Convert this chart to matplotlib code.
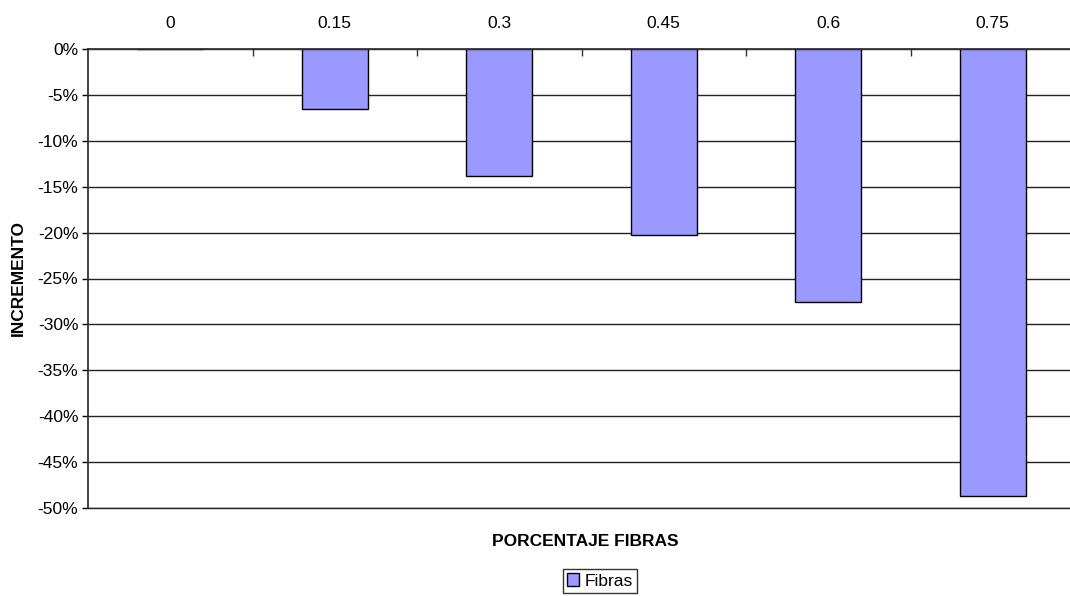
import numpy as np
import matplotlib.pyplot as plt

plt.rcParams['font.family'] = ['Liberation Sans', 'DejaVu Sans']
plt.rcParams['axes.unicode_minus'] = False

# Datos: incremento (%) segun el porcentaje de fibras
porcentajes = ['0', '0.15', '0.3', '0.45', '0.6', '0.75']
incremento = [0.0, -6.5, -13.8, -20.3, -27.6, -48.7]
etiquetas_y = ['0%', '-5%', '-10%', '-15%', '-20%', '-25%', '-30%', '-35%', '-40%', '-45%', '-50%']

fig = plt.figure(figsize=(10.7, 5.96), dpi=100)
ax = fig.add_axes([88 / 1070, 1 - 508 / 596, (1075 - 88) / 1070, (508 - 49) / 596])

x = np.arange(len(porcentajes))
ax.bar(x, incremento, width=0.4, color='#9999FF', edgecolor='black', linewidth=1.0,
       label='Fibras', zorder=2)

ax.set_xlim(-0.5, len(porcentajes) - 0.5)
ax.set_ylim(-50, 0)

# eje X arriba (en el 0%)
ax.xaxis.tick_top()
ax.set_xticks(x + 0.5, minor=False)
ax.set_xticklabels([])
ax.set_xticks(x, minor=True)
ax.set_xticklabels(porcentajes, minor=True, fontsize=12.5)
ax.tick_params(axis='x', which='major', direction='in', length=5, width=1, color='#333333')
ax.tick_params(axis='x', which='minor', length=0, pad=13)

yt = np.arange(0, -51, -5)
ax.set_yticks(yt)
ax.set_yticklabels(etiquetas_y, fontsize=12.5)
ax.tick_params(axis='y', direction='out', length=4, width=1, pad=3)

ax.grid(axis='y', color='#222222', linewidth=1.0)
ax.set_axisbelow(True)

ax.spines['right'].set_visible(False)
ax.spines['top'].set_linewidth(1.3)
ax.spines['top'].set_color('#333333')
ax.spines['left'].set_linewidth(1.3)
ax.spines['left'].set_color('#333333')
ax.spines['bottom'].set_linewidth(1.0)
ax.spines['bottom'].set_color('#222222')

fig.text(18 / 1070, 1 - 278 / 596, 'INCREMENTO', rotation=90, ha='center', va='center',
         fontsize=12.5, fontweight='bold')
fig.text(585 / 1070, 1 - 542 / 596, 'PORCENTAJE FIBRAS', ha='center', va='center',
         fontsize=12.5, fontweight='bold')

leg = fig.legend(loc='center', bbox_to_anchor=(600 / 1070, 1 - 581 / 596), fontsize=12.5,
                 frameon=True, fancybox=False, edgecolor='black', handlelength=0.7,
                 handleheight=0.7, handletextpad=0.3, borderpad=0.25, borderaxespad=0)
leg.get_frame().set_linewidth(1.0)

fig.savefig('out.png', dpi=100)
